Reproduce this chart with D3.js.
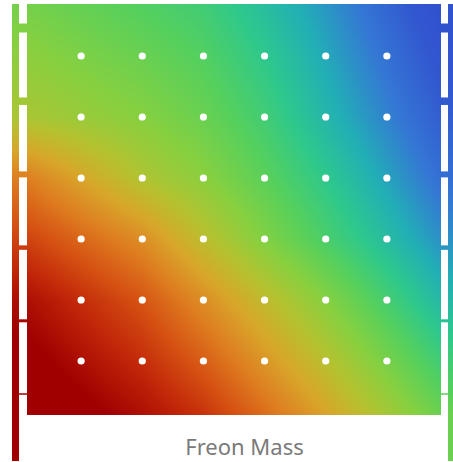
<!DOCTYPE html>
<html>
<head>
<meta charset="utf-8">
<script src="https://cdn.jsdelivr.net/npm/d3@7"></script>
<style>
  html, body { margin: 0; padding: 0; background: #ffffff; }
  svg { display: block; }
</style>
</head>
<body>
<svg id="chart" width="453" height="462"></svg>
<script>
// ---- data ----
const freonMass = [0, 1, 2, 3, 4, 5];          // x categories (dot columns)
const levels = [0, 1, 2, 3, 4, 5];             // y categories (dot rows, top to bottom)
const row1 = [6.2, 6.6, 7.1, 8.0, 9.1, 10.2];
const row2 = [5.6, 6.0, 6.6, 7.5, 8.7, 9.8];
const row3 = [4.0, 5.1, 5.9, 6.9, 8.0, 9.2];
const row4 = [2.5, 3.4, 4.8, 6.1, 7.3, 8.5];
const row5 = [1.2, 2.1, 3.4, 4.7, 6.0, 7.4];
const row6 = [0.4, 1.2, 2.3, 3.6, 4.9, 6.3];
const axisTicks = [0, 1, 2, 3, 4, 5];
const xLabel = "Freon Mass";

const zRows = [row1, row2, row3, row4, row5, row6];

// ---- layout ----
const heat = { x0: 27, x1: 441, y0: 4, y1: 415 };
const x = d3.scaleLinear().domain([-0.885, 5.885]).range([heat.x0, heat.x1]);
const y = d3.scaleLinear().domain([-0.852, 5.885]).range([heat.y0, heat.y1]);
const tickY = d3.scaleLinear().domain([0, 5]).range([28, 394]);
const tickW = d3.scaleLinear().domain([0, 5]).range([9, 1.5]);

const color = d3.scaleLinear()
  .domain([0, 1, 2, 3, 4, 5, 6, 7, 8, 9, 10, 11, 12])
  .range(["#a00000", "#c02408", "#d55012", "#de7d20", "#d8a62a", "#b4c230",
          "#86d040", "#56d05c", "#2ec88c", "#22aeb6", "#3478d4", "#3256d0", "#304ccc"])
  .interpolate(d3.interpolateRgb)
  .clamp(true);

// bilinear interpolation with linear extrapolation beyond the dot grid
function valueAt(fx, fy) {
  const n = freonMass.length, m = levels.length;
  const i0 = Math.max(0, Math.min(n - 2, Math.floor(fx)));
  const j0 = Math.max(0, Math.min(m - 2, Math.floor(fy)));
  const t = fx - i0, u = fy - j0;
  const a = zRows[j0][i0], b = zRows[j0][i0 + 1];
  const c = zRows[j0 + 1][i0], d = zRows[j0 + 1][i0 + 1];
  return (a * (1 - t) + b * t) * (1 - u) + (c * (1 - t) + d * t) * u;
}

const svg = d3.select("#chart");

// ---- heatmap raster ----
const W = heat.x1 - heat.x0, H = heat.y1 - heat.y0;
const cnv = document.createElement("canvas");
cnv.width = W; cnv.height = H;
const ctx = cnv.getContext("2d");
const img = ctx.createImageData(W, H);
for (let py = 0; py < H; py++) {
  const fy = y.invert(heat.y0 + py + 0.5);
  for (let px = 0; px < W; px++) {
    const fx = x.invert(heat.x0 + px + 0.5);
    const c = d3.rgb(color(valueAt(fx, fy)));
    const k = (py * W + px) * 4;
    img.data[k] = c.r; img.data[k + 1] = c.g; img.data[k + 2] = c.b; img.data[k + 3] = 255;
  }
}
ctx.putImageData(img, 0, 0);
svg.append("image")
  .attr("x", heat.x0).attr("y", heat.y0)
  .attr("width", W).attr("height", H)
  .attr("preserveAspectRatio", "none")
  .attr("href", cnv.toDataURL());

// ---- side strips (colored axis lines) ----
function edgeColor(side, py) {
  const fx = side === "left" ? x.invert(heat.x0) : x.invert(heat.x1);
  const yy = Math.max(heat.y0, Math.min(heat.y1, py));
  return color(valueAt(fx, y.invert(yy)));
}
const defs = svg.append("defs");
const stripTop = 4, stripBot = 461;
["left", "right"].forEach(side => {
  const g = defs.append("linearGradient").attr("id", "grad-" + side)
    .attr("x1", 0).attr("y1", 0).attr("x2", 0).attr("y2", 1);
  d3.range(0, 41).forEach(i => {
    const py = stripTop + (stripBot - stripTop) * i / 40;
    g.append("stop").attr("offset", (i / 40 * 100) + "%").attr("stop-color", edgeColor(side, py));
  });
});
svg.append("rect").attr("x", 12).attr("y", stripTop).attr("width", 7)
  .attr("height", stripBot - stripTop).attr("fill", "url(#grad-left)");
svg.append("rect").attr("x", 448).attr("y", stripTop).attr("width", 5)
  .attr("height", stripBot - stripTop).attr("fill", "url(#grad-right)");

// ---- ticks ----
svg.append("g").selectAll("line").data(axisTicks).join("line")
  .attr("x1", 19).attr("x2", heat.x0)
  .attr("y1", d => tickY(d)).attr("y2", d => tickY(d))
  .attr("stroke", d => edgeColor("left", tickY(d)))
  .attr("stroke-width", d => tickW(d));
svg.append("g").selectAll("line").data(axisTicks).join("line")
  .attr("x1", heat.x1).attr("x2", 448)
  .attr("y1", d => tickY(d)).attr("y2", d => tickY(d))
  .attr("stroke", d => edgeColor("right", tickY(d)))
  .attr("stroke-width", d => tickW(d));

// ---- dots ----
const pts = [];
levels.forEach(j => freonMass.forEach(i => pts.push({ i, j })));
svg.append("g").selectAll("circle").data(pts).join("circle")
  .attr("cx", d => x(d.i)).attr("cy", d => y(d.j))
  .attr("r", 3.6).attr("fill", "#ffffff");

// ---- label ----
svg.append("text")
  .attr("x", 244.5).attr("y", 455)
  .attr("text-anchor", "middle")
  .attr("font-family", "'Noto Sans', 'Open Sans', sans-serif")
  .attr("font-size", 22)
  .attr("fill", "#7a7a7a")
  .text(xLabel);
</script>
</body>
</html>
